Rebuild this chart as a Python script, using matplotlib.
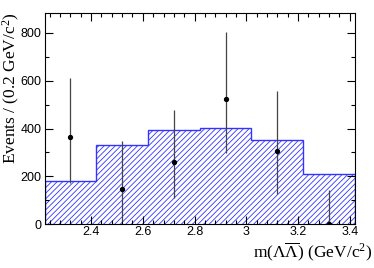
import matplotlib
matplotlib.use("Agg")
import matplotlib.pyplot as plt
import numpy as np

# bin edges and histogram (MC shape) contents
edges = [2.22, 2.42, 2.62, 2.82, 3.02, 3.22, 3.42]
hist_vals = [181, 331, 392, 401, 354, 211]

# data points with asymmetric errors
x_pts = [2.32, 2.52, 2.72, 2.92, 3.12, 3.32]
y_pts = [363, 149, 260, 522, 306, 0]
err_lo = [192, 134, 152, 226, 178, 0]
err_hi = [247, 198, 218, 281, 252, 142]


def main():
    plt.rcParams['mathtext.fontset'] = 'custom'
    plt.rcParams['mathtext.rm'] = 'Liberation Serif'
    plt.rcParams['mathtext.it'] = 'Liberation Serif:italic'
    plt.rcParams['hatch.linewidth'] = 0.6

    fig = plt.figure(figsize=(3.74, 2.68), dpi=100)
    ax = fig.add_axes([0.119, 0.163, 0.830, 0.788])

    ax.stairs(hist_vals, edges, fill=True, facecolor='white',
              edgecolor='#3333ff', hatch='//////', linewidth=0)
    ax.stairs(hist_vals, edges, color='#3333ff', linewidth=1.0)

    ax.errorbar(x_pts, y_pts, yerr=[err_lo, err_hi], fmt='o', color='black',
                ecolor='#444444', elinewidth=0.9, markersize=2.8, capsize=0)

    ax.set_xlim(2.22, 3.42)
    ax.set_ylim(0, 882)
    ax.set_xticks([2.4, 2.6, 2.8, 3.0, 3.2, 3.4])
    ax.set_xticklabels(['2.4', '2.6', '2.8', '3', '3.2', '3.4'])
    ax.set_xticks(np.arange(2.24, 3.42, 0.04), minor=True)
    ax.set_yticks([0, 200, 400, 600, 800])
    ax.set_yticks(np.arange(0, 882, 100), minor=True)

    ax.tick_params(which='both', direction='in', top=True, right=True,
                   labelsize=9, pad=2)
    ax.tick_params(axis='x', which='both', pad=1)
    ax.tick_params(which='major', length=6, width=0.8)
    ax.tick_params(which='minor', length=3, width=0.8)
    for lbl in ax.get_xticklabels() + ax.get_yticklabels():
        lbl.set_family('Liberation Sans')

    fig.text(11 / 374, 1 - 12 / 268, r'Events / (0.2 GeV/c$^{2}$)',
             family='Liberation Serif', fontsize=12.5, rotation=90,
             ha='center', va='top')
    fig.text(372 / 374, 1 - 263 / 268,
             r'm($\Lambda\overline{\Lambda}$) (GeV/c$^{2}$)',
             family='Liberation Serif', fontsize=12.5, ha='right', va='bottom')

    fig.savefig('out.png', dpi=100)


if __name__ == "__main__":
    main()
